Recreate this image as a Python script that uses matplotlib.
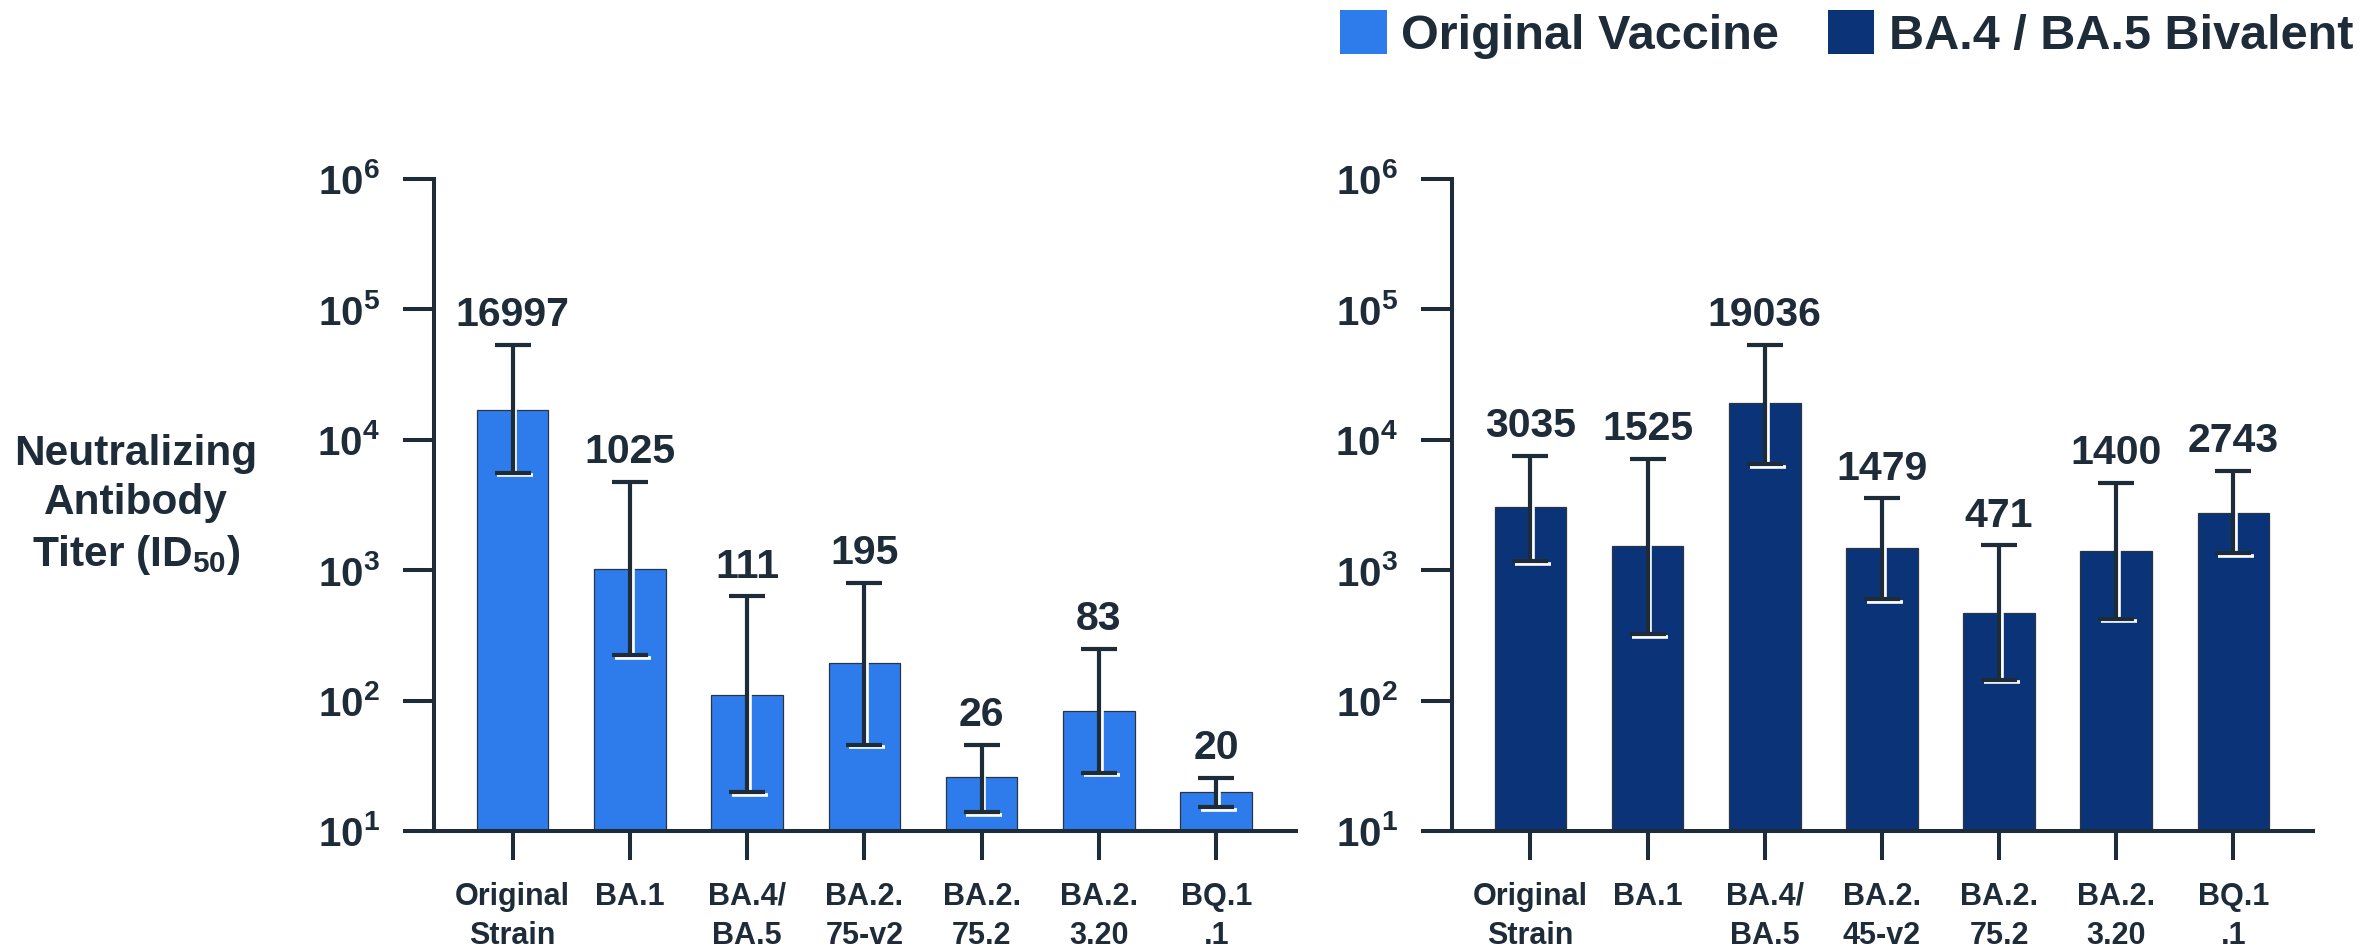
import matplotlib
matplotlib.use("Agg")
import matplotlib.pyplot as plt
from matplotlib.patches import Patch
from matplotlib.transforms import offset_copy

plt.rcParams['font.family'] = ['Liberation Sans', 'DejaVu Sans']
plt.rcParams['font.weight'] = 'bold'
plt.rcParams['mathtext.fontset'] = 'custom'
plt.rcParams['mathtext.rm'] = 'Liberation Sans:bold'
plt.rcParams['mathtext.it'] = 'Liberation Sans:bold'
plt.rcParams['mathtext.bf'] = 'Liberation Sans:bold'

INK = '#1e2b39'
LIGHT = '#2e7bec'
NAVY = '#0b3478'

# geometric mean titers with 95% CI, original vaccine
left_labels = ['Original\nStrain', 'BA.1', 'BA.4/\nBA.5', 'BA.2.\n75-v2', 'BA.2.\n75.2', 'BA.2.\n3.20', 'BQ.1\n.1']
left_gmt = [16997, 1025, 111, 195, 26, 83, 20]
left_lo = [5600, 224, 20, 46, 14, 28, 15.3]
left_hi = [53500, 4770, 630, 800, 46, 250, 25.5]

# bivalent booster
right_labels = ['Original\nStrain', 'BA.1', 'BA.4/\nBA.5', 'BA.2.\n45-v2', 'BA.2.\n75.2', 'BA.2.\n3.20', 'BQ.1\n.1']
right_gmt = [3035, 1525, 19036, 1479, 471, 1400, 2743]
right_lo = [1180, 325, 6500, 600, 145, 425, 1350]
right_hi = [7550, 7100, 53800, 3550, 1550, 4700, 5760]

y_ticks = [1e1, 1e2, 1e3, 1e4, 1e5, 1e6]
y_ticklabels = ['$10^{1}$', '$10^{2}$', '$10^{3}$', '$10^{4}$', '$10^{5}$', '$10^{6}$']

legend_names = ['Original Vaccine', 'BA.4 / BA.5 Bivalent']


def panel(ax, labels, gmt, lo, hi, color):
    x = list(range(len(gmt)))
    ax.bar(x, gmt, width=0.61, color=color, edgecolor='#2a3542', linewidth=0.9, zorder=2)
    yerr = [[g - l for g, l in zip(gmt, lo)], [h - g for g, h in zip(gmt, hi)]]
    # thin white edge under the whiskers, only visible on top of the bars
    shadow = offset_copy(ax.transData, fig=ax.figure, x=2.0, y=-2.0, units='points')
    ax.errorbar(x, gmt, yerr=yerr, fmt='none', ecolor='white', elinewidth=2.6,
                capsize=13, capthick=2.6, transform=shadow, zorder=3)
    ax.errorbar(x, gmt, yerr=yerr, fmt='none', ecolor=INK, elinewidth=3.0,
                capsize=13, capthick=3.0, zorder=4)
    for i, (g, h) in enumerate(zip(gmt, hi)):
        ax.annotate(str(g), (i, h), xytext=(0, 13.5), textcoords='offset points',
                    ha='center', va='baseline', fontsize=29.5, color=INK, fontweight='bold')

    ax.set_yscale('log')
    ax.set_ylim(10, 1e6)
    ax.set_xlim(-0.67, 6.68)
    ax.set_yticks(y_ticks)
    ax.set_yticklabels(y_ticklabels)
    ax.minorticks_off()
    ax.set_xticks(x)
    ax.set_xticklabels(labels, linespacing=1.4)
    for side in ['top', 'right']:
        ax.spines[side].set_visible(False)
    for side in ['left', 'bottom']:
        ax.spines[side].set_linewidth(2.9)
        ax.spines[side].set_color(INK)
    ax.tick_params(axis='y', length=22.3, width=2.9, pad=16.5, labelsize=29, colors=INK)
    ax.tick_params(axis='x', length=21, width=2.9, pad=15.5, labelsize=22, colors=INK)


fig = plt.figure(figsize=(23.79, 9.47), dpi=100)
ax1 = fig.add_axes([434 / 2379, 1 - 831 / 947, 862 / 2379, 652 / 947])
ax2 = fig.add_axes([1452 / 2379, 1 - 831 / 947, 861 / 2379, 652 / 947])

panel(ax1, left_labels, left_gmt, left_lo, left_hi, LIGHT)
panel(ax2, right_labels, right_gmt, right_lo, right_hi, NAVY)

fig.text(136 / 2379, 0.466, 'Neutralizing\nAntibody\nTiter (ID$_{50}$)', ha='center', va='center',
         multialignment='center', fontsize=30.5, fontweight='bold', color=INK, linespacing=1.29)

handles = [Patch(facecolor=LIGHT, edgecolor='none'), Patch(facecolor=NAVY, edgecolor='none')]
fig.legend(handles, legend_names, loc='upper right', bbox_to_anchor=(2353 / 2379, 1 - 10 / 947),
           ncol=2, frameon=False, fontsize=35, handlelength=0.95, handleheight=1.03,
           handletextpad=0.3, columnspacing=1.0, borderaxespad=0, borderpad=0, labelcolor=INK)

fig.savefig('out.png', dpi=100)
